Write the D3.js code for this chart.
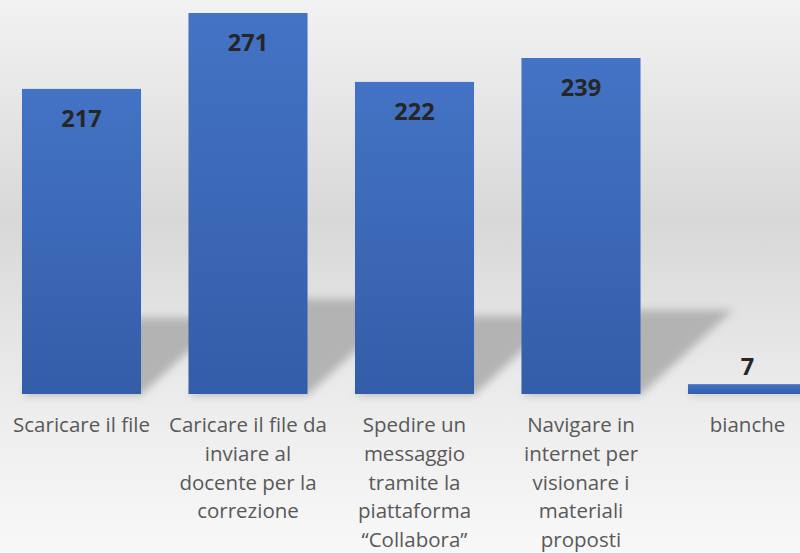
<!DOCTYPE html>
<html>
<head>
<meta charset="utf-8">
<script src="https://cdn.jsdelivr.net/npm/d3@7"></script>
<style>
  html, body { margin: 0; padding: 0; overflow: hidden; }
  text { font-family: "Open Sans", "Noto Sans", sans-serif; }
</style>
</head>
<body>
<div id="chart"></div>
<script>
// data
const categories = [
    "Scaricare il file",
    "Caricare il file da\ninviare al\ndocente per la\ncorrezione",
    "Spedire un\nmessaggio\ntramite la\npiattaforma\n\u201cCollabora\u201d",
    "Navigare in\ninternet per\nvisionare i\nmateriali\nproposti",
    "bianche"
];
const values = [217, 271, 222, 239, 7];

const W = 800, H = 553;
const baseY = 394;

const svg = d3.select("#chart")
    .append("svg")
    .attr("width", W)
    .attr("height", H);

const defs = svg.append("defs");

// slide background
const bg = defs.append("linearGradient")
    .attr("id", "bg")
    .attr("x1", 0).attr("y1", 0).attr("x2", 0).attr("y2", 1);
bg.append("stop").attr("offset", "0").attr("stop-color", "#f2f2f2");
bg.append("stop").attr("offset", "0.40").attr("stop-color", "#d8d8d8");
bg.append("stop").attr("offset", "0.72").attr("stop-color", "#ececec");
bg.append("stop").attr("offset", "1").attr("stop-color", "#f8f8f8");

// bar fill
const barGrad = defs.append("linearGradient")
    .attr("id", "barGrad")
    .attr("x1", 0).attr("y1", 0).attr("x2", 0).attr("y2", 1);
barGrad.append("stop").attr("offset", "0").attr("stop-color", "#4473c5");
barGrad.append("stop").attr("offset", "1").attr("stop-color", "#335da8");

defs.append("filter")
    .attr("id", "blur")
    .attr("x", "-20%").attr("y", "-20%")
    .attr("width", "140%").attr("height", "140%")
    .append("feGaussianBlur")
    .attr("stdDeviation", 4);

svg.append("rect")
    .attr("width", W)
    .attr("height", H)
    .attr("fill", "url(#bg)");

// scales
const x = d3.scaleBand()
    .domain(categories)
    .range([-1.75, 830.75])
    .paddingInner(0.285)
    .paddingOuter(0.1425);

const y = d3.scaleLinear()
    .domain([0, 271])
    .range([baseY, 13]);

// perspective shadows behind the bars
const shadowK = 0.25, skew = 1.1;
svg.append("g")
    .attr("filter", "url(#blur)")
    .selectAll("path")
    .data(values)
    .join("path")
    .attr("fill", "#b3b3b3")
    .attr("d", (d, i) => {
        const x0 = x(categories[i]), x1 = x0 + x.bandwidth();
        const h = (baseY - y(d)) * shadowK;
        const dx = h * skew;
        return `M${x0},${baseY + 1}L${x1},${baseY + 1}L${x1 + dx},${baseY - h}L${x0 + dx},${baseY - h}Z`;
    });

// bars
svg.append("g")
    .selectAll("rect")
    .data(values)
    .join("rect")
    .attr("x", (d, i) => x(categories[i]))
    .attr("y", d => y(d))
    .attr("width", x.bandwidth())
    .attr("height", d => baseY - y(d))
    .attr("fill", "url(#barGrad)");

// value labels
svg.append("g")
    .selectAll("text")
    .data(values)
    .join("text")
    .attr("x", (d, i) => x(categories[i]) + x.bandwidth() / 2)
    .attr("y", d => (baseY - y(d) > 50) ? y(d) + 38 : y(d) - 9)
    .attr("text-anchor", "middle")
    .attr("font-size", 23.5)
    .attr("font-weight", "bold")
    .attr("fill", "#262626")
    .text(d => d);

// category labels
const lab = svg.append("g")
    .selectAll("text")
    .data(categories)
    .join("text")
    .attr("x", d => x(d) + x.bandwidth() / 2)
    .attr("y", 432)
    .attr("text-anchor", "middle")
    .attr("font-size", 20.5)
    .attr("fill", "#595959");

lab.selectAll("tspan")
    .data(d => d.split("\n"))
    .join("tspan")
    .attr("x", function () { return d3.select(this.parentNode).attr("x"); })
    .attr("dy", (d, i) => i === 0 ? 0 : 28.8)
    .text(d => d);
</script>
</body>
</html>
